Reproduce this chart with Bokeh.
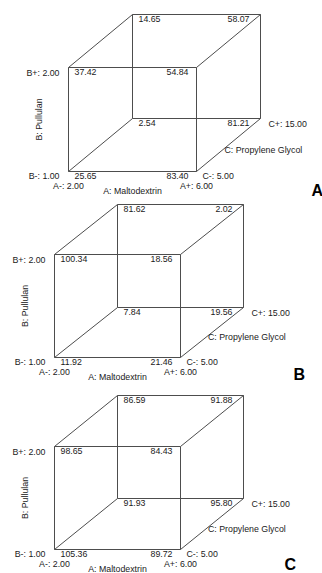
import math
from bokeh.plotting import figure
from bokeh.models import Range1d, ColumnDataSource
from bokeh.core.properties import value
from bokeh.embed import file_html
from bokeh.resources import INLINE

# ---------------- data ----------------
factor_names = ["A: Maltodextrin", "B: Pullulan", "C: Propylene Glycol"]
A_levels = ["2.00", "6.00"]
B_levels = ["1.00", "2.00"]
C_levels = ["5.00", "15.00"]
panel_labels = ["A", "B", "C"]
# corner coding (A, B, C): 0 = low, 1 = high
corner_a = [0, 1, 0, 1, 0, 1, 0, 1]
corner_b = [0, 0, 1, 1, 0, 0, 1, 1]
corner_c = [0, 0, 0, 0, 1, 1, 1, 1]
values_A = [25.65, 83.40, 37.42, 54.84, 2.54, 81.21, 14.65, 58.07]
values_B = [11.92, 21.46, 100.34, 18.56, 7.84, 19.56, 81.62, 2.02]
values_C = [105.36, 89.72, 98.65, 84.43, 91.93, 95.80, 86.59, 91.88]
panel_values = [values_A, values_B, values_C]

# ---------------- layout (screen pixel geometry) ----------------
W_PAGE, H_PAGE = 322, 573
geom = [
    dict(x0=68, y0=171, W=128, H=104, dx=64, dy=-53, lx=311, ly=190),
    dict(x0=54, y0=357, W=126, H=103, dx=63, dy=-50, lx=293, ly=374),
    dict(x0=54, y0=549, W=126, H=103, dx=63, dy=-51, lx=284, ly=564),
]
FONT = "Liberation Sans"
FS = "8.8px"
TXT = "#1a1a1a"
LINE = "#4d4d4d"


def sy(y):
    # screen y (down) -> data y (up)
    return H_PAGE - y


p = figure(width=W_PAGE, height=H_PAGE, output_backend="svg", toolbar_location=None,
           x_range=Range1d(0, W_PAGE), y_range=Range1d(0, H_PAGE),
           min_border=0, background_fill_color="white", border_fill_color="white")
p.axis.visible = False
p.grid.visible = False
p.outline_line_color = None

txt = dict(x=[], y=[], text=[], align=[])
rot = dict(x=[], y=[], text=[])
big = dict(x=[], y=[], text=[])

for g, vals, lab in zip(geom, panel_values, panel_labels):
    def proj(a, b, c):
        return (g["x0"] + a * g["W"] + c * g["dx"], g["y0"] - b * g["H"] + c * g["dy"])

    pts = [proj(a, b, c) for a, b, c in zip(corner_a, corner_b, corner_c)]
    xs, ys = [], []
    for i in range(8):
        for j in range(i + 1, 8):
            d = (abs(corner_a[i] - corner_a[j]) + abs(corner_b[i] - corner_b[j])
                 + abs(corner_c[i] - corner_c[j]))
            if d == 1:
                xs.append([pts[i][0], pts[j][0]])
                ys.append([sy(pts[i][1]), sy(pts[j][1])])
    p.multi_line(xs, ys, line_color=LINE, line_width=1)

    # corner values
    for (px, py), a, c, v in zip(pts, corner_a, corner_c, vals):
        if a == 0:
            txt["x"].append(px + 6); txt["align"].append("left")
        else:
            txt["x"].append(px - (8 if c == 0 else 11)); txt["align"].append("right")
        txt["y"].append(sy(py + 4.5))
        txt["text"].append(f"{v:.2f}")

    fbl = proj(0, 0, 0); fbr = proj(1, 0, 0); ftl = proj(0, 1, 0)
    bbr = proj(1, 0, 1)
    # B levels
    txt["x"] += [ftl[0] - 9, fbl[0] - 9]
    txt["y"] += [sy(ftl[1] + 5), sy(fbl[1] + 4.5)]
    txt["text"] += [f"B+: {B_levels[1]}", f"B-: {B_levels[0]}"]
    txt["align"] += ["right", "right"]
    # A levels
    txt["x"] += [fbl[0], fbr[0], (fbl[0] + fbr[0]) / 2]
    txt["y"] += [sy(fbl[1] + 14), sy(fbr[1] + 14), sy(fbl[1] + 19)]
    txt["text"] += [f"A-: {A_levels[0]}", f"A+: {A_levels[1]}", factor_names[0]]
    txt["align"] += ["center", "center", "center"]
    # C levels
    mx, my = (fbr[0] + bbr[0]) / 2, (fbr[1] + bbr[1]) / 2
    txt["x"] += [fbr[0] + 6, bbr[0] + 8, mx - 4]
    txt["y"] += [sy(fbr[1] + 4.5), sy(bbr[1] + 5), sy(my + 4.5)]
    txt["text"] += [f"C-: {C_levels[0]}", f"C+: {C_levels[1]}", factor_names[2]]
    txt["align"] += ["left", "left", "left"]
    # B axis name
    rot["x"].append(fbl[0] - 30)
    rot["y"].append(sy((fbl[1] + ftl[1]) / 2))
    rot["text"].append(factor_names[1])
    # panel letter
    big["x"].append(g["lx"]); big["y"].append(sy(g["ly"])); big["text"].append(lab)

p.text("x", "y", "text", source=ColumnDataSource(txt), text_align="align",
       text_baseline="middle", text_font=value(FONT), text_font_size=FS, text_color=TXT)
p.text("x", "y", "text", source=ColumnDataSource(rot), angle=math.pi / 2,
       text_align="center", text_baseline="middle", text_font=value(FONT),
       text_font_size=FS, text_color=TXT)
p.text("x", "y", "text", source=ColumnDataSource(big), text_align="left",
       text_baseline="middle", text_font=value(FONT), text_font_size="16px",
       text_font_style="bold", text_color="#000000")

open("out.html", "w").write(file_html(p, INLINE))
